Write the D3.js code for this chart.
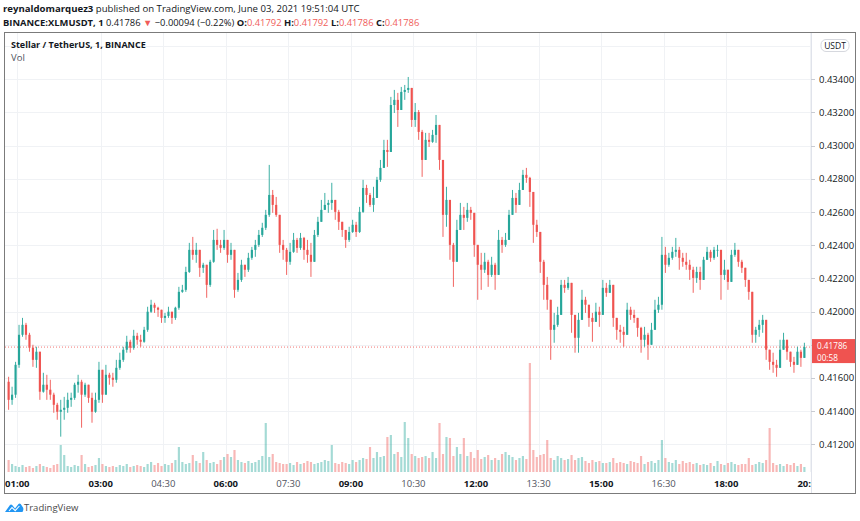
<!DOCTYPE html>
<html lang="en">
<head>
<meta charset="UTF-8">
<title>BINANCE:XLMUSDT, 1</title>
<script src="https://d3js.org/d3.v7.min.js"></script>
<style>
  body { margin: 0; background: #fff; }
  svg { display: block; font-family: "Open Sans", Roboto, sans-serif; }
</style>
</head>
<body>
<div id="chart"></div>
<script>
// 5-minute candles, starting 00:45 UTC
const startTime = Date.UTC(2021, 5, 3, 0, 45);
const stepMin = 5;
const firstOpen = 0.41577;

const closes = [
  0.41468, 0.41499, 0.41679, 0.41860, 0.41920, 0.41860, 0.41782, 0.41709, 0.41758, 0.41517,
  0.41559, 0.41529, 0.41499, 0.41438, 0.41396, 0.41408, 0.41420, 0.41468, 0.41480, 0.41559,
  0.41577, 0.41499, 0.41559, 0.41480, 0.41396, 0.41468, 0.41649, 0.41499, 0.41619, 0.41601,
  0.41589, 0.41661, 0.41709, 0.41770, 0.41818, 0.41782, 0.41854, 0.41830, 0.41818, 0.41890,
  0.41999, 0.42041, 0.42023, 0.42011, 0.41962, 0.41974, 0.41999, 0.41962, 0.42023, 0.42119,
  0.42131, 0.42239, 0.42372, 0.42342, 0.42372, 0.42264, 0.42282, 0.42161, 0.42300, 0.42432,
  0.42402, 0.42384, 0.42432, 0.42342, 0.42372, 0.42131, 0.42191, 0.42282, 0.42252, 0.42324,
  0.42372,
  0.42402, 0.42462, 0.42505, 0.42583, 0.42703, 0.42643, 0.42583, 0.42402, 0.42372, 0.42300,
  0.42360, 0.42432, 0.42384, 0.42444, 0.42372, 0.42342, 0.42300, 0.42462, 0.42541, 0.42613,
  0.42643, 0.42655, 0.42673, 0.42601, 0.42541, 0.42492, 0.42432, 0.42480, 0.42523, 0.42480,
  0.42601, 0.42745, 0.42703, 0.42643, 0.42685, 0.42794, 0.42866, 0.42974, 0.42962, 0.43245,
  0.43276, 0.43215, 0.43324, 0.43336, 0.43348, 0.43155, 0.43203, 0.43083, 0.42914, 0.43035,
  0.43023, 0.43065, 0.43125, 0.42914, 0.42583, 0.42673, 0.42402, 0.42300, 0.42492, 0.42583,
  0.42565, 0.42613, 0.42595, 0.42402, 0.42282, 0.42252, 0.42300, 0.42221, 0.42282, 0.42221,
  0.42432, 0.42402, 0.42432, 0.42583, 0.42685, 0.42643, 0.42733, 0.42824, 0.42806, 0.42721,
  0.42523, 0.42480, 0.42300, 0.42161, 0.42071, 0.41890, 0.41920, 0.41980, 0.42161, 0.42143,
  0.42173, 0.41980, 0.41842, 0.41950, 0.42071, 0.42041, 0.41962, 0.41938, 0.41999, 0.41980,
  0.42143, 0.42113, 0.42161, 0.41962, 0.41890,
  0.41878,
  0.41860, 0.42011, 0.41980, 0.41962, 0.41902, 0.41830, 0.41860, 0.41800, 0.41890, 0.42011,
  0.42041, 0.42342, 0.42282, 0.42324, 0.42360, 0.42372, 0.42324, 0.42300, 0.42282, 0.42252,
  0.42203, 0.42239, 0.42191, 0.42312, 0.42360, 0.42324, 0.42372, 0.42372, 0.42221, 0.42252,
  0.42179, 0.42342, 0.42372, 0.42300, 0.42264, 0.42191, 0.42119, 0.41860, 0.41890, 0.41920,
  0.41950, 0.41770, 0.41697, 0.41679, 0.41661, 0.41770, 0.41830, 0.41758, 0.41697, 0.41679,
  0.41758, 0.41721, 0.41786
];

const highs = [
  0.41607, 0.41547, 0.41697, 0.41920, 0.41962, 0.41932, 0.41872, 0.41800, 0.41788, 0.41758,
  0.41631, 0.41619, 0.41589, 0.41511, 0.41450, 0.41468, 0.41486, 0.41511, 0.41511, 0.41571,
  0.41619, 0.41589, 0.41571, 0.41559, 0.41511, 0.41511, 0.41697, 0.41649, 0.41679, 0.41631,
  0.41631, 0.41709, 0.41752, 0.41788, 0.41854, 0.41830, 0.41890, 0.41872, 0.41860, 0.41908,
  0.42029, 0.42071, 0.42053, 0.42029, 0.42011, 0.41992, 0.42029, 0.41992, 0.42029, 0.42149,
  0.42161, 0.42270, 0.42414, 0.42450, 0.42414, 0.42372, 0.42294, 0.42282, 0.42312, 0.42492,
  0.42499, 0.42432, 0.42492, 0.42432, 0.42414, 0.42372, 0.42233, 0.42312, 0.42282, 0.42354,
  0.42390,
  0.42432, 0.42492, 0.42535, 0.42613, 0.42884, 0.42733, 0.42691, 0.42583, 0.42432, 0.42384,
  0.42414, 0.42474, 0.42444, 0.42474, 0.42450, 0.42432, 0.42414, 0.42492, 0.42571, 0.42673,
  0.42715, 0.42673, 0.42776, 0.42673, 0.42613, 0.42541, 0.42492, 0.42511, 0.42553, 0.42541,
  0.42631, 0.42794, 0.42764, 0.42715, 0.42752, 0.42812, 0.42914, 0.43035, 0.43035, 0.43294,
  0.43336, 0.43318, 0.43354, 0.43366, 0.43414, 0.43348, 0.43257, 0.43215, 0.43095, 0.43077,
  0.43077, 0.43095, 0.43185, 0.43125, 0.42914, 0.42752, 0.42673, 0.42414, 0.42553, 0.42655,
  0.42631, 0.42655, 0.42631, 0.42595, 0.42402, 0.42354, 0.42354, 0.42312, 0.42330, 0.42294,
  0.42492, 0.42450, 0.42474, 0.42613, 0.42733, 0.42715, 0.42776, 0.42854, 0.42866, 0.42812,
  0.42721, 0.42553, 0.42480, 0.42312, 0.42209, 0.42071, 0.41992, 0.42029, 0.42191, 0.42191,
  0.42209, 0.42173, 0.41980, 0.41992, 0.42131, 0.42089, 0.42041, 0.41992, 0.42053, 0.42029,
  0.42191, 0.42173, 0.42191, 0.42161, 0.41962,
  0.41920,
  0.41908, 0.42053, 0.42029, 0.42011, 0.41962, 0.41908, 0.41908, 0.41872, 0.41932, 0.42071,
  0.42089, 0.42450, 0.42390, 0.42354, 0.42390, 0.42444, 0.42390, 0.42354, 0.42354, 0.42312,
  0.42270, 0.42270, 0.42270, 0.42330, 0.42390, 0.42372, 0.42390, 0.42402, 0.42372, 0.42312,
  0.42252, 0.42372, 0.42414, 0.42372, 0.42312, 0.42264, 0.42191, 0.42119, 0.41908, 0.41950,
  0.41980, 0.41950, 0.41770, 0.41752, 0.41709, 0.41830, 0.41872, 0.41830, 0.41758, 0.41727,
  0.41788, 0.41770, 0.41812
];

const lows = [
  0.41408, 0.41438, 0.41480, 0.41661, 0.41848, 0.41830, 0.41758, 0.41667, 0.41661, 0.41468,
  0.41511, 0.41468, 0.41468, 0.41390, 0.41348, 0.41246, 0.41348, 0.41390, 0.41426, 0.41468,
  0.41511, 0.41300, 0.41486, 0.41450, 0.41330, 0.41390, 0.41450, 0.41450, 0.41499, 0.41559,
  0.41547, 0.41571, 0.41649, 0.41697, 0.41752, 0.41752, 0.41770, 0.41800, 0.41788, 0.41812,
  0.41878, 0.41992, 0.41992, 0.41968, 0.41932, 0.41932, 0.41962, 0.41926, 0.41950, 0.42011,
  0.42113, 0.42119, 0.42233, 0.42312, 0.42294, 0.42209, 0.42233, 0.42083, 0.42149, 0.42294,
  0.42372, 0.42354, 0.42372, 0.42294, 0.42312, 0.42083, 0.42119, 0.42179, 0.42209, 0.42239,
  0.42312,
  0.42330, 0.42390, 0.42450, 0.42492, 0.42571, 0.42595, 0.42571, 0.42354, 0.42312, 0.42221,
  0.42282, 0.42354, 0.42354, 0.42372, 0.42312, 0.42294, 0.42209, 0.42300, 0.42450, 0.42541,
  0.42613, 0.42595, 0.42613, 0.42553, 0.42492, 0.42450, 0.42384, 0.42420, 0.42474, 0.42450,
  0.42474, 0.42595, 0.42655, 0.42631, 0.42601, 0.42685, 0.42782, 0.42866, 0.42872, 0.42962,
  0.43197, 0.43113, 0.43215, 0.43276, 0.43318, 0.43113, 0.43113, 0.43035, 0.42812, 0.42914,
  0.42992, 0.43017, 0.43017, 0.42854, 0.42450, 0.42511, 0.42312, 0.42149, 0.42300, 0.42492,
  0.42492, 0.42541, 0.42553, 0.42330, 0.42071, 0.42131, 0.42233, 0.42149, 0.42209, 0.42131,
  0.42221, 0.42354, 0.42390, 0.42432, 0.42583, 0.42595, 0.42643, 0.42733, 0.42776, 0.42631,
  0.42414, 0.42450, 0.42233, 0.42071, 0.42011, 0.41709, 0.41812, 0.41908, 0.41980, 0.42113,
  0.42131, 0.41872, 0.41752, 0.41752, 0.41950, 0.41992, 0.41908, 0.41818, 0.41938, 0.41908,
  0.41980, 0.42089, 0.42113, 0.41908, 0.41830,
  0.41812,
  0.41788, 0.41860, 0.41950, 0.41932, 0.41848, 0.41752, 0.41788, 0.41709, 0.41800, 0.41890,
  0.41992, 0.42011, 0.42233, 0.42270, 0.42312, 0.42330, 0.42252, 0.42270, 0.42252, 0.42191,
  0.42113, 0.42173, 0.42131, 0.42191, 0.42312, 0.42300, 0.42312, 0.42330, 0.42071, 0.42191,
  0.42131, 0.42179, 0.42330, 0.42270, 0.42233, 0.42149, 0.42071, 0.41812, 0.41812, 0.41848,
  0.41872, 0.41709, 0.41649, 0.41631, 0.41607, 0.41661, 0.41770, 0.41709, 0.41667, 0.41631,
  0.41679, 0.41667, 0.41721
];

// volume per candle, thousands of XLM
const volumesK = [
  120, 80, 60, 50, 70, 50, 60, 40, 60, 80,
  60, 50, 40, 70, 80, 270, 170, 60, 50, 70,
  60, 170, 80, 50, 60, 70, 140, 80, 60, 50,
  60, 50, 70, 60, 80, 50, 60, 70, 60, 50,
  80, 100, 70, 90, 60, 80, 70, 90, 120, 250,
  100, 80, 90, 170, 110, 90, 200, 120, 90, 100,
  80, 120, 150, 180, 150, 220, 120, 100, 90, 110,
  90, 100, 120, 160, 490, 150, 180, 100, 90, 80,
  80, 90, 70, 100, 80, 90, 110, 100, 80, 90,
  100, 120, 110, 270, 90, 80, 100, 90, 80, 120,
  100, 120, 140, 130, 250, 140, 200, 150, 160, 350,
  370, 180, 200, 150, 500, 340, 180, 160, 140, 150,
  160, 140, 200, 140, 490, 180, 350, 340, 160, 250,
  180, 340, 160, 200, 140, 220, 130, 150, 170, 120,
  140, 120, 180, 200, 170, 150, 120, 140, 160, 130,
  1090, 220, 150, 170, 180, 320, 140, 120, 160, 140,
  120, 130, 170, 120, 140, 150, 110, 90, 120, 100,
  110, 90, 90, 100, 140, 90, 100, 90, 80, 110,
  100, 90, 160, 80, 100, 110, 90, 120, 320, 140,
  100, 90, 120, 80, 110, 90, 100, 80, 90, 70,
  80, 70, 90, 60, 110, 80, 70, 90, 100, 80,
  70, 80, 80, 140, 70, 80, 100, 90, 120, 440,
  90, 70, 80, 60, 80, 70, 90, 60, 80, 50
];

const priceTicks = [0.412, 0.414, 0.416, 0.418, 0.420, 0.422, 0.424, 0.426, 0.428, 0.430, 0.432, 0.434];
const gridPrices = priceTicks.concat([0.436]);
const timeTicks = ["01:00", "03:00", "04:30", "06:00", "07:30", "09:00", "10:30", "12:00", "13:30", "15:00", "16:30", "18:00", "20:00"];
const boldTicks = ["01:00", "03:00", "06:00", "09:00", "12:00", "15:00", "18:00", "20:00"];
const lastPrice = 0.41786;

const W = 860, H = 521;
const plot = { left: 5, right: 811, top: 32, bottom: 472 };
const upColor = "#26a69a", downColor = "#ef5350";

const data = closes.map((c, i) => {
  const o = i === 0 ? firstOpen : closes[i - 1];
  return {
    t: new Date(startTime + (i * stepMin + stepMin / 2) * 60000),
    o: o, c: c,
    h: Math.max(highs[i], o, c),
    l: Math.min(lows[i], o, c),
    v: volumesK[i]
  };
});

const x = d3.scaleUtc()
  .domain([new Date(Date.UTC(2021, 5, 3, 1, 0)), new Date(Date.UTC(2021, 5, 3, 20, 0))])
  .range([17.3, 809.6]);
const y = d3.scaleLinear().domain([0.412, 0.434]).range([444.3, 79.3]);
const yVol = d3.scaleLinear().domain([0, 1100]).range([plot.bottom, plot.bottom - 110]);
const candleW = (x(new Date(startTime + stepMin * 60000)) - x(new Date(startTime))) * 0.62;

const svg = d3.select("#chart").append("svg").attr("width", W).attr("height", H);

svg.append("defs").append("clipPath").attr("id", "plotClip")
  .append("rect")
  .attr("x", plot.left).attr("y", plot.top)
  .attr("width", plot.right - plot.left).attr("height", 493 - plot.top);

// grid
const grid = svg.append("g").attr("clip-path", "url(#plotClip)");
grid.selectAll(".hg").data(gridPrices).enter().append("line")
  .attr("x1", plot.left).attr("x2", plot.right)
  .attr("y1", d => Math.round(y(d)) + 0.5).attr("y2", d => Math.round(y(d)) + 0.5)
  .attr("stroke", "#f0f2f5");

const tickTime = s => new Date(Date.UTC(2021, 5, 3, +s.slice(0, 2), +s.slice(3, 5)));
grid.selectAll(".vg").data(timeTicks).enter().append("line")
  .attr("x1", d => Math.round(x(tickTime(d))) + 0.5).attr("x2", d => Math.round(x(tickTime(d))) + 0.5)
  .attr("y1", plot.top).attr("y2", plot.bottom)
  .attr("stroke", "#f0f2f5");

// volume
const vol = svg.append("g").attr("clip-path", "url(#plotClip)");
vol.selectAll("rect").data(data).enter().append("rect")
  .attr("x", d => x(d.t) - candleW / 2)
  .attr("width", candleW)
  .attr("y", d => yVol(d.v))
  .attr("height", d => plot.bottom - yVol(d.v))
  .attr("fill", d => d.c >= d.o ? upColor : downColor)
  .attr("opacity", 0.42);

// last price line
svg.append("line")
  .attr("x1", plot.left).attr("x2", plot.right)
  .attr("y1", y(lastPrice)).attr("y2", y(lastPrice))
  .attr("stroke", downColor).attr("stroke-width", 1)
  .attr("stroke-dasharray", "1,2").attr("opacity", 0.8);

// candles
const candles = svg.append("g").attr("clip-path", "url(#plotClip)");
const cg = candles.selectAll("g").data(data).enter().append("g");
cg.append("line")
  .attr("x1", d => x(d.t)).attr("x2", d => x(d.t))
  .attr("y1", d => y(d.h)).attr("y2", d => y(d.l))
  .attr("stroke", d => d.c >= d.o ? upColor : downColor)
  .attr("stroke-width", 0.9);
cg.append("rect")
  .attr("x", d => x(d.t) - candleW / 2)
  .attr("width", candleW)
  .attr("y", d => y(Math.max(d.o, d.c)))
  .attr("height", d => Math.max(0.8, Math.abs(y(d.o) - y(d.c))))
  .attr("fill", d => d.c >= d.o ? upColor : downColor);

// price axis (the tick hidden by the last-price tag is left out)
const yp = y(lastPrice);
const shownTicks = priceTicks.filter(d => Math.abs(y(d) - yp - 4) > 14);
svg.append("line").attr("x1", plot.right + 0.5).attr("x2", plot.right + 0.5)
  .attr("y1", plot.top).attr("y2", 493).attr("stroke", "#e0e3eb");
const pa = svg.append("g");
pa.selectAll("line").data(priceTicks).enter().append("line")
  .attr("x1", plot.right).attr("x2", plot.right + 4)
  .attr("y1", d => Math.round(y(d)) + 0.5).attr("y2", d => Math.round(y(d)) + 0.5)
  .attr("stroke", "#c8cbd2");
pa.selectAll("text").data(shownTicks).enter().append("text")
  .attr("x", 819).attr("y", d => y(d) + 3.5)
  .attr("font-size", 9.5).attr("fill", "#131722")
  .text(d => d3.format(".5f")(d));

// USDT badge
svg.append("rect").attr("x", 821).attr("y", 39.5).attr("width", 28).attr("height", 12)
  .attr("rx", 5).attr("fill", "#fff").attr("stroke", "#d6d8de");
svg.append("text").attr("x", 835).attr("y", 48.5).attr("text-anchor", "middle")
  .attr("font-size", 8.5).attr("fill", "#131722").text("USDT");

// last price tag
svg.append("rect").attr("x", plot.right + 1).attr("y", yp - 8).attr("width", 44).attr("height", 24)
  .attr("fill", downColor);
svg.append("text").attr("x", 817).attr("y", yp + 2).attr("font-size", 8.2).attr("fill", "#fff")
  .text(d3.format(".5f")(lastPrice));
svg.append("text").attr("x", 817).attr("y", yp + 13.5).attr("font-size", 8.2).attr("fill", "#fff")
  .text("00:58");

// time axis
const ta = svg.append("g").attr("clip-path", "url(#plotClip)");
ta.selectAll("text").data(timeTicks).enter().append("text")
  .attr("x", d => x(tickTime(d)))
  .attr("y", 486.5)
  .attr("text-anchor", "middle")
  .attr("font-size", 9.5)
  .attr("font-weight", d => boldTicks.includes(d) ? 700 : 400)
  .attr("fill", d => boldTicks.includes(d) ? "#131722" : "#50535e")
  .text(d => d);

// frame
svg.append("rect").attr("x", 4.5).attr("y", 32.5).attr("width", 851).attr("height", 461)
  .attr("fill", "none").attr("stroke", "#7b7b7b");

// pane legend
svg.append("text").attr("x", 11).attr("y", 47.5).attr("font-size", 9).attr("font-weight", 700)
  .attr("fill", "#131722").text("Stellar / TetherUS, 1, BINANCE");
svg.append("text").attr("x", 11).attr("y", 60.5).attr("font-size", 9.5)
  .attr("fill", "#50535e").text("Vol");

// header
const h1 = svg.append("text").attr("x", 3).attr("y", 12).attr("font-size", 9.6).attr("fill", "#131722");
h1.append("tspan").attr("font-weight", 700).text("reynaldomarquez3");
h1.append("tspan").text(" published on TradingView.com, June 03, 2021 19:51:04 UTC");

const red = "#f05d5a";
const h2 = svg.append("text").attr("x", 3).attr("y", 25.5).attr("font-size", 9.4).attr("fill", "#131722");
h2.append("tspan").attr("font-weight", 700).text("BINANCE:XLMUSDT, 1");
h2.append("tspan").text(" 0.41786 ");
h2.append("tspan").attr("fill", red).text("▼");
h2.append("tspan").text(" \u22120.00094 (\u22120.22%) ");
[["O:", "0.41792"], ["H:", "0.41792"], ["L:", "0.41786"], ["C:", "0.41786"]].forEach(([k, v], i) => {
  h2.append("tspan").attr("font-weight", 700).text((i ? " " : "") + k);
  h2.append("tspan").attr("fill", red).text(v);
});

// footer logo
const logo = svg.append("g").attr("transform", "translate(5,502)");
logo.append("path")
  .attr("d", "M0 10 L5 3 Q6 1.8 7.2 3 L10 6.5 L13.5 2 Q14.5 0.8 15.7 2 L18 5.5 Q19 7.5 17.5 10 Z")
  .attr("fill", "#2196f3");
logo.append("path").attr("d", "M4 9 L7 5.5 L10.2 8.6 L14.4 4").attr("fill", "none")
  .attr("stroke", "#fff").attr("stroke-width", 1.1);
svg.append("text").attr("x", 24).attr("y", 511).attr("font-size", 9.5).attr("fill", "#4a4a4a")
  .text("TradingView");
</script>
</body>
</html>
